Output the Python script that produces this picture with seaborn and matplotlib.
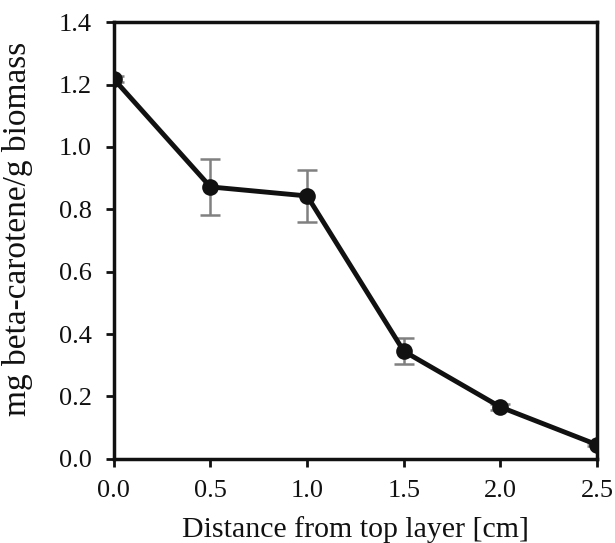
import numpy as np
import pandas as pd
import seaborn as sns
import matplotlib.pyplot as plt

distance = [0.0, 0.5, 1.0, 1.5, 2.0, 2.5]
carotene = [1.218, 0.872, 0.843, 0.345, 0.166, 0.045]
error = [0.01, 0.09, 0.082, 0.042, 0.01, 0.005]

df = pd.DataFrame({"distance": distance, "carotene": carotene, "error": error})

sns.set_theme(style="ticks")
plt.rcParams['font.family'] = ['Liberation Serif', 'DejaVu Serif']

fig = plt.figure(figsize=(6.15, 5.43), dpi=100)
ax = fig.add_axes([0.185, 0.155, 0.786, 0.804])

ax.errorbar(df["distance"], df["carotene"], yerr=df["error"], fmt="none",
            ecolor="#808080", elinewidth=1.8, capsize=7, capthick=1.8, zorder=1)
sns.lineplot(data=df, x="distance", y="carotene", ax=ax, color="#111111",
             linewidth=3.5, marker="o", markersize=12, markeredgewidth=0, zorder=2)

ax.set_xlim(0, 2.5)
ax.set_ylim(0, 1.4)
ax.set_xticks(np.arange(0, 2.51, 0.5))
ax.set_yticks(np.arange(0, 1.41, 0.2))
ax.set_xticklabels([f"{v:.1f}" for v in np.arange(0, 2.51, 0.5)])
ax.set_yticklabels([f"{v:.1f}" for v in np.arange(0, 1.41, 0.2)])
ax.tick_params(axis="both", labelsize=19, direction="out", length=6, width=2,
               color="#111111", labelcolor="#111111")
ax.tick_params(axis="y", pad=10)
ax.tick_params(axis="x", pad=9)
for s in ax.spines.values():
    s.set_linewidth(2.5)
    s.set_color("#111111")

ax.set_xlabel("Distance from top layer [cm]", fontsize=21.5, color="#111111", labelpad=10)
ax.set_ylabel("mg beta-carotene/g biomass", fontsize=24, color="#111111")
ax.yaxis.set_label_coords(-0.168, 0.526)

fig.savefig("out.png", dpi=100)
